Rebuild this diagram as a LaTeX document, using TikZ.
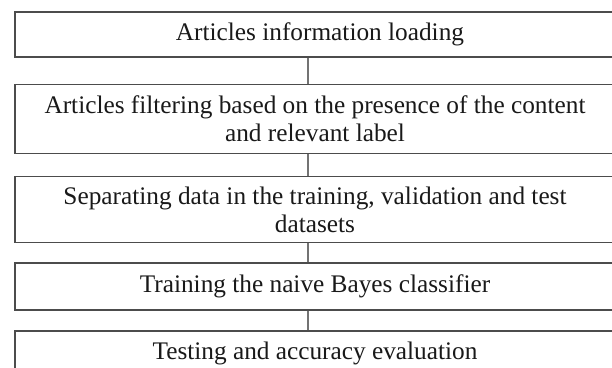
\documentclass[tikz,border=0pt]{standalone}
\usepackage{fontspec}
\setmainfont{Liberation Serif}
\begin{document}
\begin{tikzpicture}[x=1pt,y=1pt,
  stepbox/.style={draw=black!70, line width=1.4pt, minimum width=600pt, inner sep=0pt,
    align=center, font=\fontsize{25.3}{28}\selectfont, text=black!90},
  link/.style={draw=black!55, line width=1.4pt}]
\useasboundingbox (0,0) rectangle (612,-367);
\clip (0,0) rectangle (612,-367);
\fill[white] (0,0) rectangle (612,-367);
\coordinate (cx) at (308,0);
\node[stepbox, minimum height=45pt] (b1) at (315,-34.5) {\hspace*{10pt}Articles information loading};
\node[stepbox, minimum height=69pt] (b2) at (315,-119) {Articles filtering based on the presence of the content\\and relevant label};
\node[stepbox, minimum height=66pt] (b3) at (315,-209.5) {Separating data in the training, validation and test\\datasets};
\node[stepbox, minimum height=47pt] (b4) at (315,-286.5) {Training the naive Bayes classifier};
\node[stepbox, minimum height=45pt] (b5) at (315,-353.5) {Testing and accuracy evaluation};
\draw[link] (b1.south -| cx) -- (b2.north -| cx);
\draw[link] (b2.south -| cx) -- (b3.north -| cx);
\draw[link] (b3.south -| cx) -- (b4.north -| cx);
\draw[link] (b4.south -| cx) -- (b5.north -| cx);
\end{tikzpicture}
\end{document}
